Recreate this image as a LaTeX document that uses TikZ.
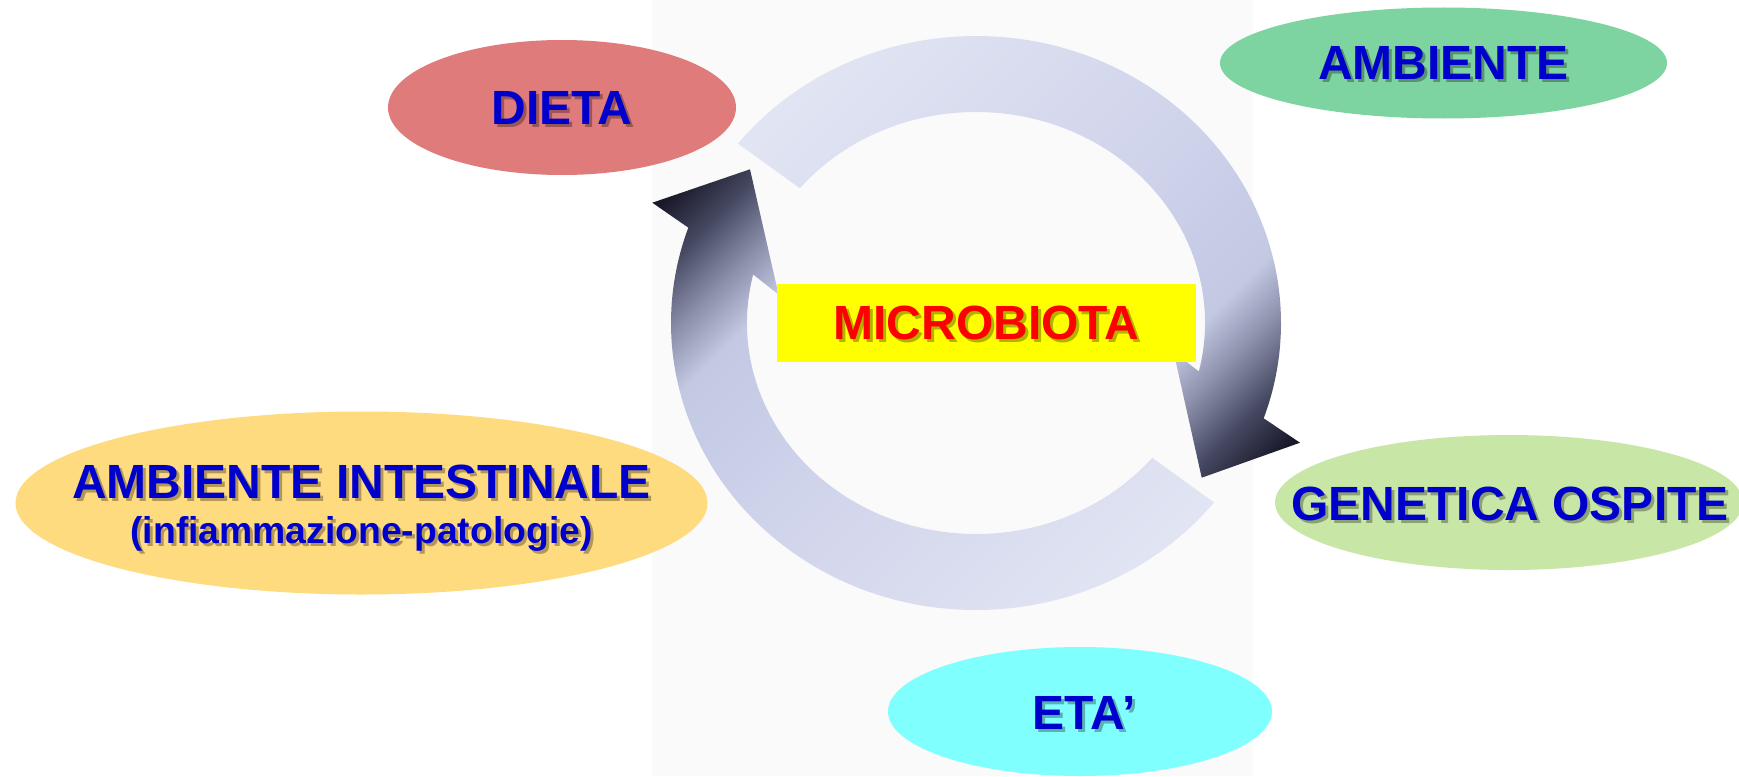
\documentclass[tikz,border=0pt]{standalone}
\usepackage{fontspec}
\setmainfont{Liberation Sans}
\usetikzlibrary{shapes.geometric,calc}
\definecolor{bgray}{HTML}{FAFAFA}
\definecolor{dietacol}{HTML}{E07B7B}
\definecolor{ambcol}{HTML}{7DD4A1}
\definecolor{intcol}{HTML}{FFDB7F}
\definecolor{gencol}{HTML}{C8E6A6}
\definecolor{etacol}{HTML}{80FFFF}
\definecolor{txtblue}{HTML}{0000CC}
\definecolor{boxyellow}{HTML}{FFFF00}
\definecolor{txtred}{HTML}{FF0000}
\definecolor{r0}{HTML}{E4E7F4}
\definecolor{r1}{HTML}{E2E5F3}
\definecolor{r2}{HTML}{DCDFF0}
\definecolor{r3}{HTML}{D0D4EB}
\definecolor{r4}{HTML}{C6CBE6}
\definecolor{r5}{HTML}{C3C8E3}
\definecolor{r6}{HTML}{8A8EA9}
\definecolor{r7}{HTML}{474A63}
\definecolor{r8}{HTML}{191929}
\pgfdeclarehorizontalshading{ringshade}{100bp}{color(0bp)=(r0); color(28bp)=(r1); color(36bp)=(r2); color(50bp)=(r3); color(58.5bp)=(r4); color(61.5bp)=(r5); color(65bp)=(r6); color(68.5bp)=(r7); color(72bp)=(r8); color(100bp)=(r8)}
\newcommand\shadowlabel[5]{%
  \node[#5, text=black, text opacity=0.3] (#1s) at ($#2+(3,-3)$) {#4};
  \node[#5, text=#3] (#1) at #2 {#4};}
\newcommand\upperarrowpath{(976,-323) ++(141.3:305pt and 287pt)
  arc[start angle=141.3, end angle=-19.4, x radius=305pt, y radius=287pt]
  -- (1300,-442.7) -- (1201.7,-477.7) -- (1173.5,-351.5)
  -- ($(976,-323)+(-13.3:229pt and 211pt)$)
  arc[start angle=-13.3, end angle=140.3, x radius=229pt, y radius=211pt] -- cycle}
\newcommand\lowerarrowpath{(976,-323) ++(-38.7:305pt and 287pt)
  arc[start angle=-38.7, end angle=-199.4, x radius=305pt, y radius=287pt]
  -- (652.3,-202.7) -- (750,-169.3) -- (778.5,-294.5)
  -- ($(976,-323)+(166.7:229pt and 211pt)$)
  arc[start angle=166.7, end angle=320.3, x radius=229pt, y radius=211pt] -- cycle}
\begin{document}
\begin{tikzpicture}[x=1pt,y=1pt,
  blob/.style={ellipse, inner sep=0pt, draw=none},
  lbl/.style={font=\fontsize{48}{52}\selectfont\bfseries, inner sep=0pt},
  sublbl/.style={font=\fontsize{37.3}{40}\selectfont\bfseries, inner sep=0pt}]
\useasboundingbox (0,0) rectangle (1739,-776);
\fill[white] (0,0) rectangle (1739,-776);
\fill[bgray] (652,0) rectangle (1253,-776);
\coordinate (C) at (976,-323);
% ellipses
\node[blob, fill=dietacol, minimum width=348pt, minimum height=135pt] (dieta) at (562,-107.5) {};
\node[blob, fill=ambcol, minimum width=447pt, minimum height=111pt] (amb) at (1443.5,-63) {};
\node[blob, fill=intcol, minimum width=692pt, minimum height=183pt] (ambint) at (361.5,-503) {};
\node[blob, fill=gencol, minimum width=468pt, minimum height=135pt] (gen) at (1509,-502.5) {};
\node[blob, fill=etacol, minimum width=384pt, minimum height=129pt] (eta) at (1080,-711.5) {};
% circular arrows
\begin{scope}
  \clip \upperarrowpath;
  \shade[shading=ringshade, shading angle=315] (626,-673) rectangle (1326,27);
\end{scope}
\begin{scope}
  \clip \lowerarrowpath;
  \shade[shading=ringshade, shading angle=135] (626,-673) rectangle (1326,27);
\end{scope}
% centre box
\node[fill=boxyellow, inner sep=0pt, minimum width=419pt, minimum height=78pt] (micro) at (986.5,-323) {};
% labels
\shadowlabel{dietaT}{(dieta)}{txtblue}{DIETA}{lbl}
\shadowlabel{ambT}{(amb)}{txtblue}{AMBIENTE}{lbl}
\shadowlabel{genT}{(1510,-503.5)}{txtblue}{GENETICA OSPITE}{lbl}
\shadowlabel{etaT}{(1084,-713)}{txtblue}{ETA’}{lbl}
\shadowlabel{intT}{(361.5,-481.5)}{txtblue}{AMBIENTE INTESTINALE}{lbl}
\shadowlabel{intS}{(361.5,-533.5)}{txtblue}{(infiammazione-patologie)}{sublbl}
\shadowlabel{microT}{(micro)}{txtred}{MICROBIOTA}{lbl}
\end{tikzpicture}
\end{document}
